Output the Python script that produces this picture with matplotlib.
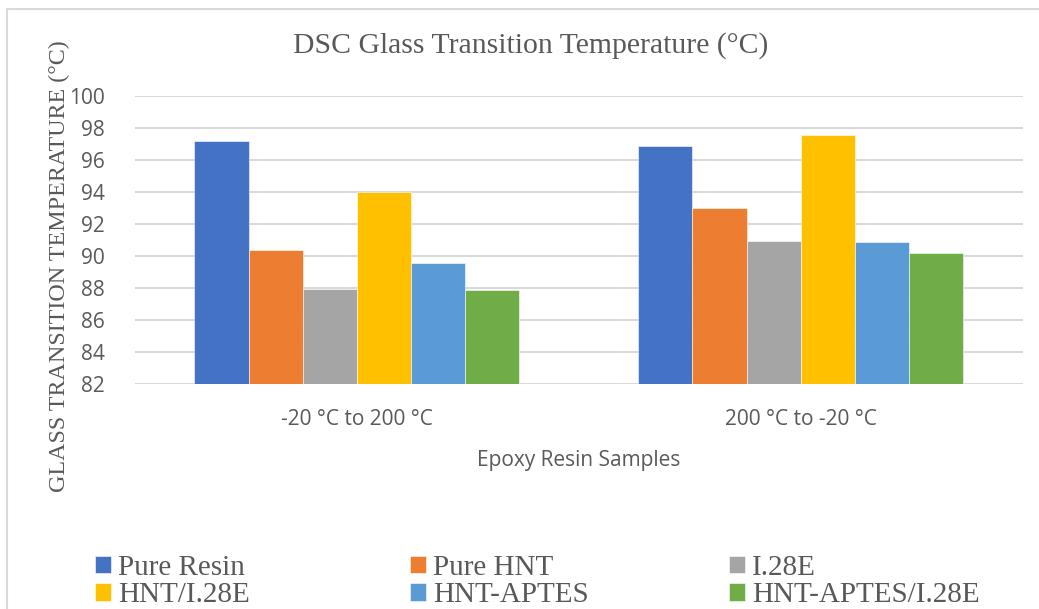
import matplotlib.pyplot as plt
import numpy as np
from matplotlib.lines import Line2D

categories = ["-20 °C to 200 °C", "200 °C to -20 °C"]
series_names = ["Pure Resin", "Pure HNT", "I.28E", "HNT/I.28E", "HNT-APTES", "HNT-APTES/I.28E"]
pure_resin = [97.15, 96.88]
pure_hnt = [90.35, 93.01]
i28e = [87.95, 90.92]
hnt_i28e = [94.01, 97.55]
hnt_aptes = [89.56, 90.90]
hnt_aptes_i28e = [87.86, 90.17]
colors = ["#4472C4", "#ED7D31", "#A5A5A5", "#FFC000", "#5B9BD5", "#70AD47"]

series = [pure_resin, pure_hnt, i28e, hnt_i28e, hnt_aptes, hnt_aptes_i28e]
text_color = "#595959"
grid_color = "#D9D9D9"
serif = ["Liberation Serif", "DejaVu Serif"]
sans = ["Open Sans", "DejaVu Sans"]

fig = plt.figure(figsize=(10.39, 6.09), dpi=100)
ax = fig.add_axes([0.1299, 0.3690, 0.8544, 0.4739])

x = np.arange(len(categories))
width = 0.122
for i, (vals, name, c) in enumerate(zip(series, series_names, colors)):
    ax.bar(x + (i - 2.5) * width, vals, width, color=c, label=name,
           edgecolor="white", linewidth=0.4, zorder=3)

ax.set_ylim(82, 100)
ax.set_yticks(np.arange(82, 101, 2))
ax.set_xlim(-0.5, 1.5)
ax.set_xticks(x)
ax.set_xticklabels(categories)
ax.grid(axis="y", color=grid_color, linewidth=1.5, zorder=0)
for s in ax.spines.values():
    s.set_visible(False)
ax.tick_params(axis="both", length=0, colors=text_color, labelsize=15)
ax.tick_params(axis="y", pad=22)
ax.tick_params(axis="x", pad=18)
for lbl in ax.get_xticklabels() + ax.get_yticklabels():
    lbl.set_family(sans)

ax.set_xlabel("Epoxy Resin Samples", family=sans, fontsize=15,
              color=text_color, labelpad=14)

fig.text(0.511, 0.925, "DSC Glass Transition Temperature (°C)", family=serif,
         fontsize=21.4, color=text_color, ha="center", va="center")
fig.text(0.0575, 0.563, "GLASS TRANSITION TEMPERATURE (°C)", family=serif,
         fontsize=17.3, color=text_color, ha="center", va="center", rotation=90)

# chart border (top and left edges visible)
fig.add_artist(Line2D([7 / 1039, 7 / 1039, 1.0], [0.0, 1 - 9 / 609, 1 - 9 / 609],
                      transform=fig.transFigure, color=grid_color, linewidth=1.5))

# legend: three columns, two rows, filled row by row
handles, labels = ax.get_legend_handles_labels()
col_x = [95, 410, 729]
for col, px in enumerate(col_x):
    idx = [col, col + 3]
    leg = fig.legend([handles[k] for k in idx], [labels[k] for k in idx],
                     loc="upper left", bbox_to_anchor=(px / 1039, 1 - 555 / 609),
                     ncol=1, frameon=False, prop={"family": serif, "size": 21},
                     handlelength=0.55, handleheight=0.55, handletextpad=0.25,
                     borderpad=0, borderaxespad=0, labelspacing=0.05,
                     labelcolor=text_color)

fig.savefig("out.png", dpi=100)
